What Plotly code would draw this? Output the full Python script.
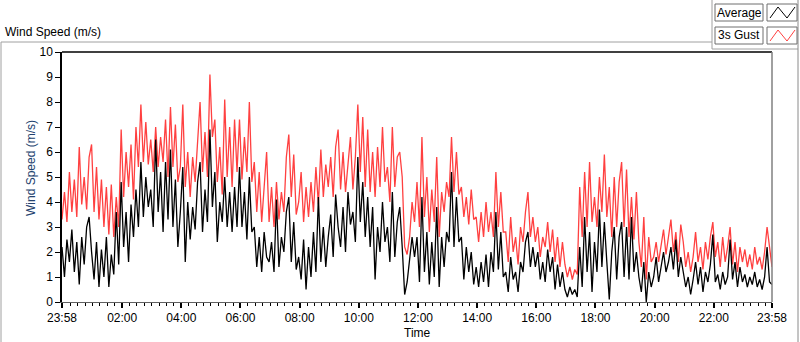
import pandas as pd
import plotly.graph_objects as go

# 5-minute samples from 23:58 (previous day) to 23:58
start_time = "2024-01-01 23:58"
end_time = "2024-01-02 23:58"
times = pd.date_range(start=start_time, end=end_time, freq="5min")

gust_speed = [
    3.3, 4.4, 3.2, 5.2, 3.6, 4.9, 3.4, 6.2, 3.9, 5.0, 3.7, 5.8,
    6.3, 3.6, 5.4, 3.3, 4.9, 3.0, 4.6, 2.7, 4.7, 2.6, 4.2, 3.0,
    6.9, 4.2, 6.0, 4.6, 6.3, 4.1, 7.0, 5.4, 7.9, 5.6, 7.2, 5.5,
    6.5, 5.2, 7.0, 5.4, 6.6, 5.6, 7.3, 5.0, 7.8, 5.4, 7.1, 4.8,
    5.4, 7.9, 4.6, 6.0, 4.2, 5.8, 4.8, 6.5, 8.0, 5.2, 6.8, 5.0,
    9.1, 6.6, 7.3, 4.8, 6.2, 4.3, 8.1, 5.0, 7.0, 4.6, 7.3, 5.2,
    7.3, 4.9, 6.6, 5.2, 8.0, 4.8, 5.6, 3.6, 5.2, 3.2, 4.6, 6.0,
    3.2, 4.6, 3.0, 4.8, 3.3, 4.4, 3.6, 5.8, 6.7, 4.2, 5.9, 3.5,
    4.0, 5.2, 3.2, 4.6, 3.4, 4.8, 3.6, 5.4, 3.9, 6.1, 4.2, 5.5,
    4.6, 5.8, 4.2, 6.2, 6.9, 4.5, 6.0, 4.4, 5.5, 6.6, 4.5, 5.8,
    7.9, 5.2, 7.4, 4.6, 6.9, 4.4, 6.0, 4.2, 6.2, 4.6, 7.0, 4.8,
    5.4, 4.0, 7.0, 4.6, 5.8, 6.0, 5.0, 2.2, 1.9, 2.6, 4.0, 3.2,
    4.8, 3.0, 6.6, 3.4, 5.0, 2.8, 4.5, 3.2, 5.8, 2.6, 4.4, 3.6,
    4.8, 4.2, 6.6, 4.4, 6.0, 4.3, 4.6, 3.4, 4.2, 3.1, 4.5, 3.3,
    3.4, 2.4, 3.6, 2.6, 4.0, 2.8, 3.6, 2.6, 5.2, 3.0, 4.4, 2.8,
    2.8, 1.6, 3.4, 2.0, 2.6, 1.5, 3.0, 2.4, 3.6, 4.4, 2.6, 3.4,
    2.4, 3.0, 1.8, 2.6, 2.2, 3.2, 2.0, 2.9, 1.6, 2.6, 1.4, 2.4,
    1.5, 1.0, 1.4, 0.9, 1.3, 1.1, 4.6, 2.6, 5.2, 3.0, 5.6, 3.2,
    4.2, 3.0, 5.0, 3.6, 5.9, 3.4, 4.6, 2.6, 5.0, 3.0, 4.8, 5.6,
    3.0, 5.3, 2.6, 4.2, 2.5, 4.4, 2.4, 1.4, 3.4, 0.9, 2.6, 1.6,
    1.8, 2.4, 1.6, 2.2, 2.9, 1.9, 2.6, 3.3, 2.0, 2.8, 1.6, 3.1,
    2.4, 1.4, 2.0, 1.2, 1.8, 2.8, 1.6, 2.2, 1.3, 2.4, 1.7, 2.6,
    3.2, 1.8, 2.4, 1.4, 2.6, 1.6, 2.2, 3.0, 1.5, 2.4, 1.2, 2.2,
    1.6, 2.1, 1.4, 1.9, 1.3, 2.2, 1.5, 1.8, 1.3, 2.0, 3.0, 2.2,
    1.4,
]

avg_speed = [
    2.2, 1.0, 2.5, 1.6, 2.9, 1.2, 2.4, 0.7, 2.6, 1.5, 3.0, 3.4,
    2.0, 0.9, 2.4, 0.6, 2.1, 1.0, 2.6, 0.6, 1.9, 1.1, 3.6, 1.5,
    4.8, 2.2, 3.6, 1.6, 3.9, 2.6, 4.5, 3.0, 5.6, 3.4, 5.0, 3.8,
    4.5, 3.0, 6.5, 3.6, 5.2, 2.8, 5.6, 3.3, 6.1, 3.0, 4.9, 2.2,
    3.6, 5.4, 1.6, 4.0, 2.5, 3.8, 2.9, 4.8, 5.6, 2.8, 4.5, 3.2,
    6.9, 3.8, 5.2, 2.4, 4.0, 3.2, 5.0, 3.0, 4.4, 2.8, 4.6, 3.0,
    5.4, 3.0, 4.4, 2.5, 5.0, 2.8, 3.0, 1.4, 2.6, 1.2, 2.8, 1.8,
    1.6, 2.4, 1.2, 4.1, 1.4, 2.6, 2.0, 3.6, 4.2, 1.6, 3.2, 1.3,
    1.8, 0.9, 2.5, 0.5, 2.2, 1.0, 2.8, 1.2, 4.2, 1.6, 3.0, 1.4,
    2.6, 3.5, 1.8, 4.3, 3.0, 2.2, 3.8, 2.0, 4.4, 3.1, 3.6, 2.4,
    5.8, 3.2, 4.8, 2.6, 4.2, 2.2, 3.8, 0.9, 3.0, 2.0, 4.0, 2.4,
    3.0, 1.6, 4.4, 1.8, 3.2, 3.8, 2.2, 0.3, 0.8, 1.6, 2.6, 1.8,
    2.6, 0.8, 4.2, 1.2, 2.8, 0.7, 2.4, 1.0, 3.8, 0.6, 2.6, 1.4,
    2.8, 2.4, 5.2, 2.2, 4.2, 2.4, 2.6, 0.9, 2.2, 1.2, 2.0, 0.7,
    1.4, 0.6, 1.6, 0.8, 1.9, 0.6, 2.0, 1.2, 3.6, 1.3, 2.8, 1.0,
    1.2, 0.4, 1.8, 0.9, 1.2, 0.4, 1.6, 1.2, 2.4, 2.8, 1.4, 2.2,
    1.4, 2.0, 0.9, 1.6, 0.8, 2.1, 1.2, 1.8, 0.5, 1.5, 0.6, 1.2,
    0.5, 0.2, 0.6, 0.3, 0.5, 0.2, 2.2, 0.6, 3.4, 1.2, 2.8, 0.4,
    2.4, 1.2, 3.7, 1.4, 3.2, 1.6, 0.1, 2.0, 3.0, 0.9, 2.6, 3.2,
    1.0, 3.0, 0.9, 3.4, 1.2, 2.0, 1.0, 0.4, 1.6, 0.0, 1.2, 0.6,
    1.0, 1.8, 0.8, 1.4, 2.0, 1.2, 1.6, 2.2, 1.3, 2.5, 1.0, 1.8,
    1.2, 0.6, 1.0, 0.3, 0.9, 1.6, 0.7, 1.4, 0.4, 1.2, 0.8, 1.5,
    2.7, 0.8, 1.1, 0.5, 1.2, 0.7, 1.0, 2.5, 0.9, 1.6, 0.6, 1.4,
    0.8, 1.1, 0.6, 1.0, 0.7, 1.2, 0.6, 0.9, 0.5, 1.0, 2.2, 0.8,
    0.7,
]

tick_values = [start_time] + [f"2024-01-02 {h:02d}:00" for h in range(2, 23, 2)] + [end_time]
tick_labels = ["23:58"] + [f"{h:02d}:00" for h in range(2, 23, 2)] + ["23:58"]

W, H = 800, 342
L, R, T, B = 62, 28, 52, 40
PW, PH = W - L - R, H - T - B
FONT = "Liberation Sans, Arial, sans-serif"


def px(x):
    return (x - L) / PW


def py(y):
    return (H - B - y) / PH


fig = go.Figure()
fig.add_trace(go.Scatter(x=times, y=gust_speed, mode="lines", name="3s Gust",
                         line=dict(color="#ff4040", width=1.3), showlegend=False))
fig.add_trace(go.Scatter(x=times, y=avg_speed, mode="lines", name="Average",
                         line=dict(color="#000000", width=1.3), showlegend=False))

shapes = []
# outer panel frame
gray = "#a0a0a0"
shapes.append(dict(type="path", xref="paper", yref="paper",
                   path=f"M {px(1)},{py(342)} L {px(1)},{py(42)} L {px(712)},{py(42)}",
                   line=dict(color=gray, width=1)))
shapes.append(dict(type="path", xref="paper", yref="paper",
                   path=f"M {px(712)},{py(0)} L {px(712)},{py(49)} L {px(798)},{py(49)}",
                   line=dict(color=gray, width=1)))
shapes.append(dict(type="line", xref="paper", yref="paper",
                   x0=px(798), x1=px(798), y0=py(0), y1=py(342),
                   line=dict(color="#8a8a8a", width=1)))
# plot area frame (top/left black, right/bottom gray)
shapes.append(dict(type="line", xref="paper", yref="paper", x0=0, x1=1, y0=1, y1=1,
                   line=dict(color="#000000", width=1.5)))
shapes.append(dict(type="line", xref="paper", yref="paper", x0=1, x1=1, y0=0, y1=1,
                   line=dict(color="#808080", width=1.5)))

# legend boxes
for (y0, y1) in [(4, 21), (27, 44)]:
    shapes.append(dict(type="rect", xref="paper", yref="paper",
                       x0=px(715), x1=px(763), y0=py(y1), y1=py(y0),
                       line=dict(color="#6e6e6e", width=1), fillcolor="white"))
    shapes.append(dict(type="rect", xref="paper", yref="paper",
                       x0=px(767), x1=px(797), y0=py(y1), y1=py(y0),
                       line=dict(color="#6e6e6e", width=1), fillcolor="white"))
for dy, col in [(0, "#000000"), (23, "#ff4040")]:
    pts = [(770, 18 + dy), (778, 7 + dy), (787, 18 + dy), (795, 7 + dy)]
    path = "M " + " L ".join(f"{px(a)},{py(b)}" for a, b in pts)
    shapes.append(dict(type="path", xref="paper", yref="paper", path=path,
                       line=dict(color=col, width=1)))

annotations = [
    dict(text="Wind Speed (m/s)", xref="paper", yref="paper", x=px(3), y=py(32),
         xanchor="left", yanchor="middle", showarrow=False,
         font=dict(family=FONT, size=12, color="#000000")),
    dict(text="Wind Speed (m/s)", xref="paper", yref="paper", x=px(31), y=py(168),
         xanchor="center", yanchor="middle", textangle=-90, showarrow=False,
         font=dict(family=FONT, size=12, color="#23426e")),
    dict(text="Time", xref="paper", yref="paper", x=px(417), y=py(333),
         xanchor="center", yanchor="middle", showarrow=False,
         font=dict(family=FONT, size=12, color="#000000")),
    dict(text="Average", xref="paper", yref="paper", x=px(739), y=py(12.5),
         xanchor="center", yanchor="middle", showarrow=False,
         font=dict(family=FONT, size=12, color="#000000")),
    dict(text="3s Gust", xref="paper", yref="paper", x=px(739), y=py(35.5),
         xanchor="center", yanchor="middle", showarrow=False,
         font=dict(family=FONT, size=12, color="#000000")),
]

fig.update_layout(
    width=W, height=H,
    margin=dict(l=L, r=R, t=T, b=B, pad=0),
    paper_bgcolor="white", plot_bgcolor="white",
    font=dict(family=FONT, size=12, color="#000000"),
    showlegend=False,
    hovermode=False,
    shapes=shapes,
    annotations=annotations,
    xaxis=dict(
        type="date", range=[start_time, end_time],
        tickmode="array", tickvals=tick_values, ticktext=tick_labels,
        ticks="outside", ticklen=5, tickwidth=2, tickcolor="#000000",
        showgrid=False, zeroline=False,
        showline=True, linecolor="#606060", linewidth=1,
        tickfont=dict(family=FONT, size=12, color="#000000"),
        minor=dict(ticks="outside", ticklen=3, tickwidth=1, tickcolor="#000000",
                   dtick=15 * 60 * 1000, tick0="2024-01-02 00:00", showgrid=False),
    ),
    yaxis=dict(
        range=[0, 10], tickmode="linear", tick0=0, dtick=1,
        ticks="outside", ticklen=5, tickwidth=1, tickcolor="#000000",
        showgrid=False, zeroline=False,
        showline=True, linecolor="#000000", linewidth=1.5,
        tickfont=dict(family=FONT, size=12, color="#000000"),
    ),
)

fig.write_html(
    "out.html",
    config={"displayModeBar": False},
    post_script="document.body.style.margin='0';document.body.style.overflow='hidden';",
)
